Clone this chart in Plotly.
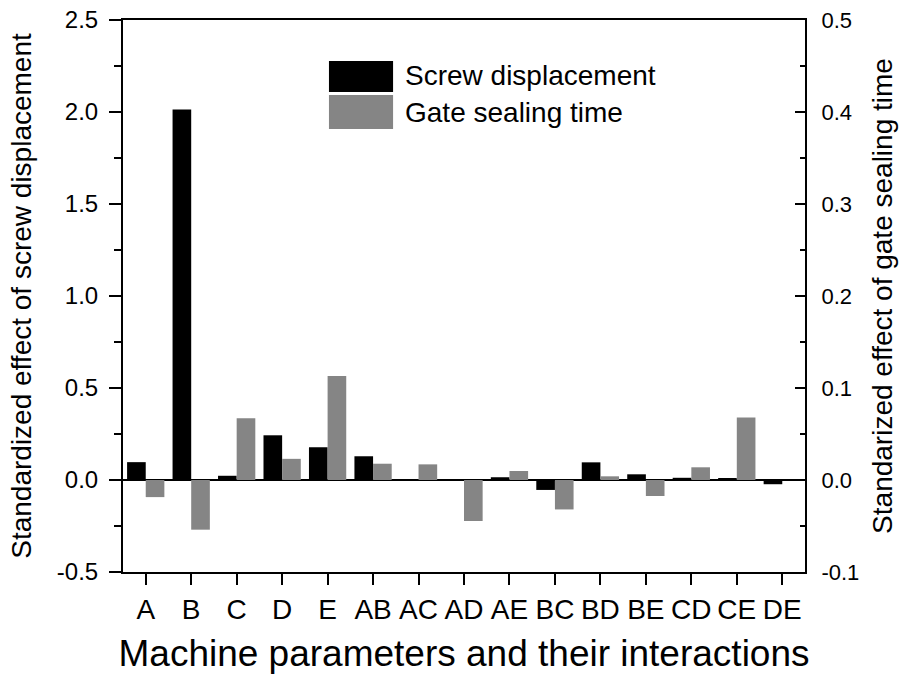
import plotly.graph_objects as go

# Factors and two-factor interactions
factors = ["A", "B", "C", "D", "E", "AB", "AC", "AD", "AE", "BC", "BD", "BE", "CD", "CE", "DE"]

# Standardized effects
screw_displacement = [0.097, 2.013, 0.023, 0.243, 0.178, 0.129, -0.005, 0.005,
                      0.015, -0.054, 0.096, 0.031, 0.012, 0.010, -0.023]
gate_sealing_time = [-0.0186, -0.054, 0.067, 0.023, 0.113, 0.0177, 0.017, -0.0446,
                     0.0098, -0.032, 0.004, -0.0174, 0.0138, 0.068, 0.0]

# Axis tick values and labels (plain hyphen for negatives)
left_tick_vals = [-0.5, 0.0, 0.5, 1.0, 1.5, 2.0, 2.5]
left_tick_text = ["-0.5", "0.0", "0.5", "1.0", "1.5", "2.0", "2.5"]
right_tick_vals = [-0.1, 0.0, 0.1, 0.2, 0.3, 0.4, 0.5]
right_tick_text = ["-0.1", "0.0", "0.1", "0.2", "0.3", "0.4", "0.5"]

series_names = ["Screw displacement", "Gate sealing time"]
FONT = "Liberation Sans, Arial, sans-serif"
BLACK = "#000000"
GRAY = "#858585"

fig = go.Figure()
fig.add_trace(go.Bar(x=factors, y=screw_displacement, name=series_names[0],
                     marker=dict(color=BLACK, line=dict(width=0)),
                     width=0.41, offset=-0.41, yaxis="y", showlegend=False))
fig.add_trace(go.Bar(x=factors, y=gate_sealing_time, name=series_names[1],
                     marker=dict(color=GRAY, line=dict(width=0)),
                     width=0.41, offset=0.0, yaxis="y2", showlegend=False))

# Hand-drawn legend with large swatches
sw_x0, sw_x1 = 0.302, 0.396
legend_rows = [(series_names[0], BLACK, 0.8696, 0.9257, 0.8986),
               (series_names[1], GRAY, 0.8025, 0.8641, 0.8333)]
shapes = []
annotations = []
for name, col, y0, y1, ty in legend_rows:
    shapes.append(dict(type="rect", xref="paper", yref="paper",
                       x0=sw_x0, x1=sw_x1, y0=y0, y1=y1,
                       fillcolor=col, line=dict(width=0)))
    annotations.append(dict(text=name, xref="paper", yref="paper", x=0.4106, y=ty,
                            xanchor="left", yanchor="middle", showarrow=False,
                            font=dict(family=FONT, size=28, color=BLACK)))

fig.update_layout(
    width=904, height=678,
    margin=dict(l=123, r=99, t=20, b=106, autoexpand=False),
    paper_bgcolor="white", plot_bgcolor="white",
    font=dict(family=FONT, color=BLACK),
    bargap=0.18,
    shapes=shapes,
    annotations=annotations,
    xaxis=dict(
        type="category", range=[-0.5, 14.5], automargin=False,
        showline=True, linecolor=BLACK, linewidth=2, mirror=True,
        ticks="outside", ticklen=11, tickwidth=2, tickcolor=BLACK,
        tickfont=dict(size=28), ticklabelstandoff=0,
        showgrid=False, zeroline=False,
        title=dict(text="Machine parameters and their interactions",
                   font=dict(size=37), standoff=17),
    ),
    yaxis=dict(
        range=[-0.5, 2.5], tickmode="array", automargin=False,
        tickvals=left_tick_vals, ticktext=left_tick_text,
        showline=True, linecolor=BLACK, linewidth=2,
        ticks="outside", ticklen=12, tickwidth=2, tickcolor=BLACK,
        minor=dict(dtick=0.25, tick0=0, ticks="outside", ticklen=7, tickwidth=2,
                   tickcolor=BLACK),
        tickfont=dict(size=24), ticklabelstandoff=6,
        showgrid=False, zeroline=True, zerolinecolor=BLACK, zerolinewidth=2,
        title=dict(text="Standardized effect of screw displacement",
                   font=dict(size=28), standoff=17),
    ),
    yaxis2=dict(
        overlaying="y", side="right", automargin=False,
        range=[-0.1, 0.5], tickmode="array",
        tickvals=right_tick_vals, ticktext=right_tick_text,
        showline=True, linecolor=BLACK, linewidth=2,
        ticks="inside", ticklen=10, tickwidth=2, tickcolor=BLACK,
        minor=dict(dtick=0.05, tick0=0, ticks="inside", ticklen=5, tickwidth=2,
                   tickcolor=BLACK),
        tickfont=dict(size=22), ticklabelstandoff=10,
        showgrid=False, zeroline=False,
        title=dict(text="Standarized effect of gate sealing time",
                   font=dict(size=28), standoff=14),
    ),
)

fig.write_html("out.html")
